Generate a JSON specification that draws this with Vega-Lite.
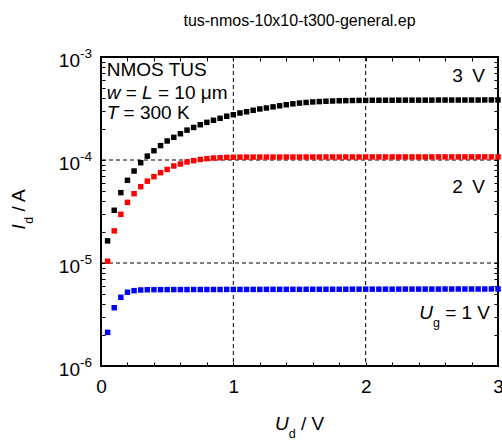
{
  "$schema": "https://vega.github.io/schema/vega-lite/v6.json",
  "autosize": {"type": "none"},
  "padding": {"left": 101, "top": 57, "right": 4, "bottom": 74},
  "width": 397,
  "height": 309,
  "title": {"text": "tus-nmos-10x10-t300-general.ep", "fontSize": 16, "fontWeight": "normal", "font": "Liberation Sans", "color": "#000", "offset": 18, "anchor": "middle"},
  "config": {
    "view": {"stroke": "#000", "strokeWidth": 2},
    "font": "Liberation Sans",
    "text": {"font": "Liberation Sans", "fontSize": 19, "color": "#000"},
    "axis": {"domain": false, "grid": false, "ticks": true, "tickSize": -4, "tickColor": "#000", "tickWidth": 1, "title": null, "labelFont": "Liberation Sans", "labelColor": "#000", "labelFontSize": 19}
  },
  "datasets": {
    "iv": [
      {"s":"3 V","x":0.05,"y":1.64e-5},{"s":"3 V","x":0.10,"y":3.25e-5},{"s":"3 V","x":0.15,"y":4.82e-5},{"s":"3 V","x":0.20,"y":6.35e-5},{"s":"3 V","x":0.25,"y":7.82e-5},{"s":"3 V","x":0.30,"y":9.41e-5},{"s":"3 V","x":0.35,"y":1.09e-4},{"s":"3 V","x":0.40,"y":1.23e-4},{"s":"3 V","x":0.45,"y":1.38e-4},{"s":"3 V","x":0.50,"y":1.53e-4},
      {"s":"3 V","x":0.55,"y":1.66e-4},{"s":"3 V","x":0.60,"y":1.80e-4},{"s":"3 V","x":0.65,"y":1.95e-4},{"s":"3 V","x":0.70,"y":2.07e-4},{"s":"3 V","x":0.75,"y":2.20e-4},{"s":"3 V","x":0.80,"y":2.32e-4},{"s":"3 V","x":0.85,"y":2.43e-4},{"s":"3 V","x":0.90,"y":2.54e-4},{"s":"3 V","x":0.95,"y":2.66e-4},{"s":"3 V","x":1.00,"y":2.75e-4},
      {"s":"3 V","x":1.05,"y":2.86e-4},{"s":"3 V","x":1.10,"y":2.94e-4},{"s":"3 V","x":1.15,"y":3.04e-4},{"s":"3 V","x":1.20,"y":3.13e-4},{"s":"3 V","x":1.25,"y":3.20e-4},{"s":"3 V","x":1.30,"y":3.28e-4},{"s":"3 V","x":1.35,"y":3.36e-4},{"s":"3 V","x":1.40,"y":3.44e-4},{"s":"3 V","x":1.45,"y":3.51e-4},{"s":"3 V","x":1.50,"y":3.57e-4},
      {"s":"3 V","x":1.55,"y":3.62e-4},{"s":"3 V","x":1.60,"y":3.66e-4},{"s":"3 V","x":1.65,"y":3.69e-4},{"s":"3 V","x":1.70,"y":3.72e-4},{"s":"3 V","x":1.75,"y":3.74e-4},{"s":"3 V","x":1.80,"y":3.76e-4},{"s":"3 V","x":1.85,"y":3.77e-4},{"s":"3 V","x":1.90,"y":3.78e-4},{"s":"3 V","x":1.95,"y":3.79e-4},{"s":"3 V","x":2.00,"y":3.79e-4},
      {"s":"3 V","x":2.05,"y":3.80e-4},{"s":"3 V","x":2.10,"y":3.80e-4},{"s":"3 V","x":2.15,"y":3.80e-4},{"s":"3 V","x":2.20,"y":3.80e-4},{"s":"3 V","x":2.25,"y":3.81e-4},{"s":"3 V","x":2.30,"y":3.81e-4},{"s":"3 V","x":2.35,"y":3.81e-4},{"s":"3 V","x":2.40,"y":3.81e-4},{"s":"3 V","x":2.45,"y":3.81e-4},{"s":"3 V","x":2.50,"y":3.81e-4},
      {"s":"3 V","x":2.55,"y":3.82e-4},{"s":"3 V","x":2.60,"y":3.82e-4},{"s":"3 V","x":2.65,"y":3.82e-4},{"s":"3 V","x":2.70,"y":3.82e-4},{"s":"3 V","x":2.75,"y":3.82e-4},{"s":"3 V","x":2.80,"y":3.82e-4},{"s":"3 V","x":2.85,"y":3.82e-4},{"s":"3 V","x":2.90,"y":3.83e-4},{"s":"3 V","x":2.95,"y":3.83e-4},{"s":"3 V","x":3.00,"y":3.83e-4},
      {"s":"2 V","x":0.05,"y":1.04e-5},{"s":"2 V","x":0.10,"y":2.05e-5},{"s":"2 V","x":0.15,"y":2.97e-5},{"s":"2 V","x":0.20,"y":3.88e-5},{"s":"2 V","x":0.25,"y":4.71e-5},{"s":"2 V","x":0.30,"y":5.51e-5},{"s":"2 V","x":0.35,"y":6.23e-5},{"s":"2 V","x":0.40,"y":6.89e-5},{"s":"2 V","x":0.45,"y":7.53e-5},{"s":"2 V","x":0.50,"y":8.09e-5},
      {"s":"2 V","x":0.55,"y":8.75e-5},{"s":"2 V","x":0.60,"y":9.15e-5},{"s":"2 V","x":0.65,"y":9.57e-5},{"s":"2 V","x":0.70,"y":9.85e-5},{"s":"2 V","x":0.75,"y":1.012e-4},{"s":"2 V","x":0.80,"y":1.030e-4},{"s":"2 V","x":0.85,"y":1.045e-4},{"s":"2 V","x":0.90,"y":1.053e-4},{"s":"2 V","x":0.95,"y":1.060e-4},{"s":"2 V","x":1.00,"y":1.064e-4},
      {"s":"2 V","x":1.05,"y":1.066e-4},{"s":"2 V","x":1.10,"y":1.067e-4},{"s":"2 V","x":1.15,"y":1.067e-4},{"s":"2 V","x":1.20,"y":1.068e-4},{"s":"2 V","x":1.25,"y":1.068e-4},{"s":"2 V","x":1.30,"y":1.068e-4},{"s":"2 V","x":1.35,"y":1.068e-4},{"s":"2 V","x":1.40,"y":1.069e-4},{"s":"2 V","x":1.45,"y":1.069e-4},{"s":"2 V","x":1.50,"y":1.069e-4},
      {"s":"2 V","x":1.55,"y":1.069e-4},{"s":"2 V","x":1.60,"y":1.069e-4},{"s":"2 V","x":1.65,"y":1.070e-4},{"s":"2 V","x":1.70,"y":1.070e-4},{"s":"2 V","x":1.75,"y":1.070e-4},{"s":"2 V","x":1.80,"y":1.070e-4},{"s":"2 V","x":1.85,"y":1.070e-4},{"s":"2 V","x":1.90,"y":1.070e-4},{"s":"2 V","x":1.95,"y":1.070e-4},{"s":"2 V","x":2.00,"y":1.070e-4},
      {"s":"2 V","x":2.05,"y":1.071e-4},{"s":"2 V","x":2.10,"y":1.071e-4},{"s":"2 V","x":2.15,"y":1.071e-4},{"s":"2 V","x":2.20,"y":1.071e-4},{"s":"2 V","x":2.25,"y":1.071e-4},{"s":"2 V","x":2.30,"y":1.071e-4},{"s":"2 V","x":2.35,"y":1.071e-4},{"s":"2 V","x":2.40,"y":1.071e-4},{"s":"2 V","x":2.45,"y":1.071e-4},{"s":"2 V","x":2.50,"y":1.072e-4},
      {"s":"2 V","x":2.55,"y":1.072e-4},{"s":"2 V","x":2.60,"y":1.072e-4},{"s":"2 V","x":2.65,"y":1.072e-4},{"s":"2 V","x":2.70,"y":1.072e-4},{"s":"2 V","x":2.75,"y":1.072e-4},{"s":"2 V","x":2.80,"y":1.072e-4},{"s":"2 V","x":2.85,"y":1.072e-4},{"s":"2 V","x":2.90,"y":1.072e-4},{"s":"2 V","x":2.95,"y":1.072e-4},{"s":"2 V","x":3.00,"y":1.072e-4},
      {"s":"1 V","x":0.05,"y":2.12e-6},{"s":"1 V","x":0.10,"y":3.68e-6},{"s":"1 V","x":0.15,"y":4.65e-6},{"s":"1 V","x":0.20,"y":5.20e-6},{"s":"1 V","x":0.25,"y":5.39e-6},{"s":"1 V","x":0.30,"y":5.47e-6},{"s":"1 V","x":0.35,"y":5.50e-6},{"s":"1 V","x":0.40,"y":5.51e-6},{"s":"1 V","x":0.45,"y":5.51e-6},{"s":"1 V","x":0.50,"y":5.52e-6},
      {"s":"1 V","x":0.55,"y":5.52e-6},{"s":"1 V","x":0.60,"y":5.52e-6},{"s":"1 V","x":0.65,"y":5.52e-6},{"s":"1 V","x":0.70,"y":5.53e-6},{"s":"1 V","x":0.75,"y":5.53e-6},{"s":"1 V","x":0.80,"y":5.53e-6},{"s":"1 V","x":0.85,"y":5.53e-6},{"s":"1 V","x":0.90,"y":5.53e-6},{"s":"1 V","x":0.95,"y":5.54e-6},{"s":"1 V","x":1.00,"y":5.54e-6},
      {"s":"1 V","x":1.05,"y":5.54e-6},{"s":"1 V","x":1.10,"y":5.54e-6},{"s":"1 V","x":1.15,"y":5.54e-6},{"s":"1 V","x":1.20,"y":5.54e-6},{"s":"1 V","x":1.25,"y":5.55e-6},{"s":"1 V","x":1.30,"y":5.55e-6},{"s":"1 V","x":1.35,"y":5.55e-6},{"s":"1 V","x":1.40,"y":5.55e-6},{"s":"1 V","x":1.45,"y":5.55e-6},{"s":"1 V","x":1.50,"y":5.55e-6},
      {"s":"1 V","x":1.55,"y":5.56e-6},{"s":"1 V","x":1.60,"y":5.56e-6},{"s":"1 V","x":1.65,"y":5.56e-6},{"s":"1 V","x":1.70,"y":5.56e-6},{"s":"1 V","x":1.75,"y":5.56e-6},{"s":"1 V","x":1.80,"y":5.56e-6},{"s":"1 V","x":1.85,"y":5.56e-6},{"s":"1 V","x":1.90,"y":5.57e-6},{"s":"1 V","x":1.95,"y":5.57e-6},{"s":"1 V","x":2.00,"y":5.57e-6},
      {"s":"1 V","x":2.05,"y":5.57e-6},{"s":"1 V","x":2.10,"y":5.57e-6},{"s":"1 V","x":2.15,"y":5.57e-6},{"s":"1 V","x":2.20,"y":5.57e-6},{"s":"1 V","x":2.25,"y":5.58e-6},{"s":"1 V","x":2.30,"y":5.58e-6},{"s":"1 V","x":2.35,"y":5.58e-6},{"s":"1 V","x":2.40,"y":5.58e-6},{"s":"1 V","x":2.45,"y":5.58e-6},{"s":"1 V","x":2.50,"y":5.58e-6},
      {"s":"1 V","x":2.55,"y":5.58e-6},{"s":"1 V","x":2.60,"y":5.59e-6},{"s":"1 V","x":2.65,"y":5.59e-6},{"s":"1 V","x":2.70,"y":5.59e-6},{"s":"1 V","x":2.75,"y":5.59e-6},{"s":"1 V","x":2.80,"y":5.59e-6},{"s":"1 V","x":2.85,"y":5.59e-6},{"s":"1 V","x":2.90,"y":5.59e-6},{"s":"1 V","x":2.95,"y":5.60e-6},{"s":"1 V","x":3.00,"y":5.60e-6}
    ],
    "ylab": [
      {"v":1e-6,"b":"10","e":"-6"},{"v":1e-5,"b":"10","e":"-5"},{"v":1e-4,"b":"10","e":"-4"},{"v":1e-3,"b":"10","e":"-3"}
    ]
  },
  "resolve": {"axis": {"x": "independent", "y": "independent"}},
  "layer": [
    {
      "data": {"values": [{"g": 1}, {"g": 2}]},
      "mark": {"type": "rule", "color": "#000", "strokeWidth": 1, "strokeDash": [4, 3]},
      "encoding": {
        "x": {"field": "g", "type": "quantitative", "scale": {"domain": [0, 3], "nice": false, "zero": false},
          "axis": {"orient": "bottom", "values": [0,0.2,0.4,0.6,0.8,1,1.2,1.4,1.6,1.8,2,2.2,2.4,2.6,2.8,3], "labelExpr": "abs(datum.value - round(datum.value)) < 0.001 ? format(datum.value, 'd') : ''", "labelFlush": false, "labelOverlap": false, "labelBound": false, "labelPadding": 15, "labelBaseline": "top"}}
      }
    },
    {
      "data": {"values": [{"g": 1e-4}, {"g": 1e-5}]},
      "mark": {"type": "rule", "color": "#000", "strokeWidth": 1, "strokeDash": [4, 3]},
      "encoding": {
        "y": {"field": "g", "type": "quantitative", "scale": {"type": "log", "domain": [1e-6, 1e-3], "nice": false},
          "axis": {"orient": "left", "labels": false, "values": [1e-6,2e-6,3e-6,4e-6,5e-6,6e-6,7e-6,8e-6,9e-6,1e-5,2e-5,3e-5,4e-5,5e-5,6e-5,7e-5,8e-5,9e-5,1e-4,2e-4,3e-4,4e-4,5e-4,6e-4,7e-4,8e-4,9e-4,1e-3]}}
      }
    },
    {
      "data": {"name": "iv"},
      "mark": {"type": "square", "size": 30, "filled": true, "opacity": 1},
      "encoding": {
        "x": {"field": "x", "type": "quantitative", "axis": null},
        "y": {"field": "y", "type": "quantitative", "axis": null},
        "color": {"field": "s", "type": "nominal", "scale": {"domain": ["3 V", "2 V", "1 V"], "range": ["#000000", "#ff0000", "#0000ff"]}, "legend": null}
      }
    },
    {
      "data": {"name": "ylab"},
      "mark": {"type": "text", "align": "right", "baseline": "alphabetic", "dx": -21, "dy": 9.5, "fontSize": 19},
      "encoding": {
        "x": {"datum": 0, "type": "quantitative", "axis": null},
        "y": {"field": "v", "type": "quantitative", "axis": null},
        "text": {"field": "b"}
      }
    },
    {
      "data": {"name": "ylab"},
      "mark": {"type": "text", "align": "left", "baseline": "alphabetic", "dx": -21, "dy": 1, "fontSize": 13.5},
      "encoding": {
        "x": {"datum": 0, "type": "quantitative", "axis": null},
        "y": {"field": "v", "type": "quantitative", "axis": null},
        "text": {"field": "e"}
      }
    },
    {
      "data": {"values": [{}]},
      "mark": {"type": "text", "align": "left", "baseline": "alphabetic", "text": "NMOS TUS"},
      "encoding": {"x": {"datum": 0.043, "type": "quantitative", "axis": null}, "y": {"datum": 6.58e-4, "type": "quantitative", "axis": null}}
    },
    {
      "data": {"values": [{}]},
      "mark": {"type": "text", "align": "left", "baseline": "alphabetic", "text": "w", "fontStyle": "italic"},
      "encoding": {"x": {"datum": 0.043, "type": "quantitative", "axis": null}, "y": {"datum": 3.87e-4, "type": "quantitative", "axis": null}}
    },
    {
      "data": {"values": [{}]},
      "mark": {"type": "text", "align": "left", "baseline": "alphabetic", "text": "=", "dx": 19},
      "encoding": {"x": {"datum": 0.043, "type": "quantitative", "axis": null}, "y": {"datum": 3.87e-4, "type": "quantitative", "axis": null}}
    },
    {
      "data": {"values": [{}]},
      "mark": {"type": "text", "align": "left", "baseline": "alphabetic", "text": "L", "fontStyle": "italic", "dx": 35.4},
      "encoding": {"x": {"datum": 0.043, "type": "quantitative", "axis": null}, "y": {"datum": 3.87e-4, "type": "quantitative", "axis": null}}
    },
    {
      "data": {"values": [{}]},
      "mark": {"type": "text", "align": "left", "baseline": "alphabetic", "text": "= 10 μm", "dx": 51.3},
      "encoding": {"x": {"datum": 0.043, "type": "quantitative", "axis": null}, "y": {"datum": 3.87e-4, "type": "quantitative", "axis": null}}
    },
    {
      "data": {"values": [{}]},
      "mark": {"type": "text", "align": "left", "baseline": "alphabetic", "text": "T", "fontStyle": "italic"},
      "encoding": {"x": {"datum": 0.043, "type": "quantitative", "axis": null}, "y": {"datum": 2.5e-4, "type": "quantitative", "axis": null}}
    },
    {
      "data": {"values": [{}]},
      "mark": {"type": "text", "align": "left", "baseline": "alphabetic", "text": "= 300 K", "dx": 16.9},
      "encoding": {"x": {"datum": 0.043, "type": "quantitative", "axis": null}, "y": {"datum": 2.5e-4, "type": "quantitative", "axis": null}}
    },
    {
      "data": {"values": [{}]},
      "mark": {"type": "text", "align": "right", "baseline": "alphabetic", "text": "3\u2002V"},
      "encoding": {"x": {"datum": 2.902, "type": "quantitative", "axis": null}, "y": {"datum": 5.68e-4, "type": "quantitative", "axis": null}}
    },
    {
      "data": {"values": [{}]},
      "mark": {"type": "text", "align": "right", "baseline": "alphabetic", "text": "2\u2002V"},
      "encoding": {"x": {"datum": 2.902, "type": "quantitative", "axis": null}, "y": {"datum": 4.75e-5, "type": "quantitative", "axis": null}}
    },
    {
      "data": {"values": [{}]},
      "mark": {"type": "text", "align": "right", "baseline": "alphabetic", "text": "= 1 V"},
      "encoding": {"x": {"datum": 2.94, "type": "quantitative", "axis": null}, "y": {"datum": 2.84e-6, "type": "quantitative", "axis": null}}
    },
    {
      "data": {"values": [{}]},
      "mark": {"type": "text", "align": "right", "baseline": "alphabetic", "text": "g", "fontSize": 12.5, "dx": -50.2, "dy": 8},
      "encoding": {"x": {"datum": 2.94, "type": "quantitative", "axis": null}, "y": {"datum": 2.84e-6, "type": "quantitative", "axis": null}}
    },
    {
      "data": {"values": [{}]},
      "mark": {"type": "text", "align": "right", "baseline": "alphabetic", "text": "U", "fontStyle": "italic", "dx": -57.2},
      "encoding": {"x": {"datum": 2.94, "type": "quantitative", "axis": null}, "y": {"datum": 2.84e-6, "type": "quantitative", "axis": null}}
    },
    {
      "data": {"values": [{}]},
      "mark": {"type": "text", "align": "left", "baseline": "alphabetic", "text": "U", "fontStyle": "italic", "dx": -24.5, "dy": 64},
      "encoding": {"x": {"datum": 1.5, "type": "quantitative", "axis": null}, "y": {"datum": 1e-6, "type": "quantitative", "axis": null}}
    },
    {
      "data": {"values": [{}]},
      "mark": {"type": "text", "align": "left", "baseline": "alphabetic", "text": "d", "fontSize": 12.5, "dx": -10.8, "dy": 72},
      "encoding": {"x": {"datum": 1.5, "type": "quantitative", "axis": null}, "y": {"datum": 1e-6, "type": "quantitative", "axis": null}}
    },
    {
      "data": {"values": [{}]},
      "mark": {"type": "text", "align": "left", "baseline": "alphabetic", "text": "/ V", "dx": 1.5, "dy": 64},
      "encoding": {"x": {"datum": 1.5, "type": "quantitative", "axis": null}, "y": {"datum": 1e-6, "type": "quantitative", "axis": null}}
    },
    {
      "data": {"values": [{}]},
      "mark": {"type": "text", "align": "left", "baseline": "alphabetic", "angle": 270, "text": "I", "fontStyle": "italic", "dx": -18, "dy": -76},
      "encoding": {"x": {"datum": 0, "type": "quantitative", "axis": null}, "y": {"datum": 3.1623e-5, "type": "quantitative", "axis": null}}
    },
    {
      "data": {"values": [{}]},
      "mark": {"type": "text", "align": "left", "baseline": "alphabetic", "angle": 270, "text": "d", "fontSize": 12.5, "dx": -12.3, "dy": -68},
      "encoding": {"x": {"datum": 0, "type": "quantitative", "axis": null}, "y": {"datum": 3.1623e-5, "type": "quantitative", "axis": null}}
    },
    {
      "data": {"values": [{}]},
      "mark": {"type": "text", "align": "left", "baseline": "alphabetic", "angle": 270, "text": "/ A", "dx": 0, "dy": -76},
      "encoding": {"x": {"datum": 0, "type": "quantitative", "axis": null}, "y": {"datum": 3.1623e-5, "type": "quantitative", "axis": null}}
    },
    {
      "data": {"values": [{"a": 1, "b": 1e-5}]},
      "mark": {"type": "point", "opacity": 0},
      "encoding": {
        "x": {"field": "a", "type": "quantitative", "axis": {"orient": "top", "labels": false, "values": [0,0.2,0.4,0.6,0.8,1,1.2,1.4,1.6,1.8,2,2.2,2.4,2.6,2.8,3]}},
        "y": {"field": "b", "type": "quantitative", "axis": {"orient": "right", "labels": false, "values": [1e-6,2e-6,3e-6,4e-6,5e-6,6e-6,7e-6,8e-6,9e-6,1e-5,2e-5,3e-5,4e-5,5e-5,6e-5,7e-5,8e-5,9e-5,1e-4,2e-4,3e-4,4e-4,5e-4,6e-4,7e-4,8e-4,9e-4,1e-3]}}
      }
    }
  ]
}
